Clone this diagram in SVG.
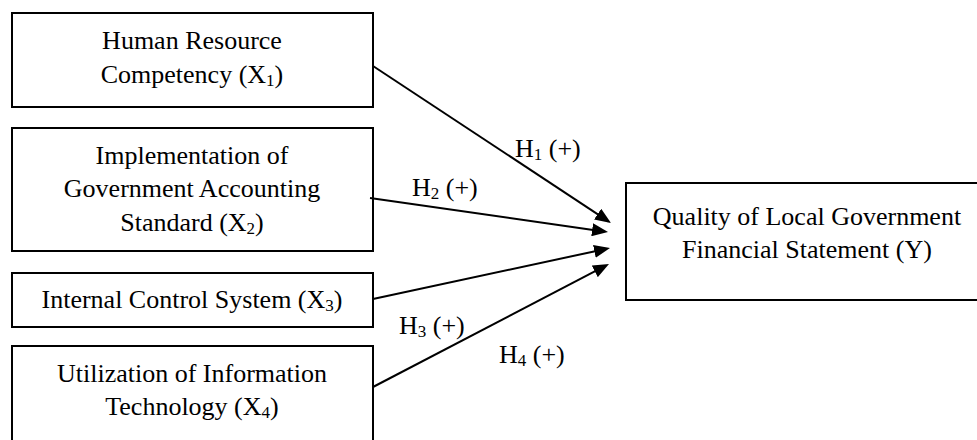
<svg xmlns="http://www.w3.org/2000/svg" width="977" height="440" viewBox="0 0 977 440">
<style>
.box{fill:#fff;stroke:#000;stroke-width:2}
.t{font-family:"Liberation Serif","Times New Roman",serif;font-size:26px;fill:#000;text-anchor:middle}
.l{font-family:"Liberation Serif","Times New Roman",serif;font-size:26px;fill:#000}
.s{font-size:17px}
.c{stroke:#000;stroke-width:2;fill:none;marker-end:url(#ah)}
</style>
<defs>
<marker id="ah" markerUnits="userSpaceOnUse" markerWidth="16" markerHeight="13" refX="8" refY="6.5" orient="auto" viewBox="0 0 16 13">
<path d="M0,0 L16,6.5 L0,13 z" fill="#000"/>
</marker>
</defs>
<rect width="977" height="440" fill="#fff"/>
<g id="x1">
<rect class="box" x="12" y="13" width="361" height="94"/>
<text class="t" x="192" y="49">Human Resource</text>
<text class="t" x="192" y="83">Competency (X<tspan class="s" dy="3">1</tspan><tspan dy="-3">)</tspan></text>
</g>
<g id="x2">
<rect class="box" x="12" y="128" width="361" height="123"/>
<text class="t" x="192" y="164">Implementation of</text>
<text class="t" x="192" y="197">Government Accounting</text>
<text class="t" x="192" y="231">Standard (X<tspan class="s" dy="3">2</tspan><tspan dy="-3">)</tspan></text>
</g>
<g id="x3">
<rect class="box" x="12" y="273" width="361" height="54"/>
<text class="t" x="192" y="308">Internal Control System (X<tspan class="s" dy="3">3</tspan><tspan dy="-3">)</tspan></text>
</g>
<g id="x4">
<rect class="box" x="12" y="346" width="361" height="100"/>
<text class="t" x="192" y="382">Utilization of Information</text>
<text class="t" x="192" y="415">Technology (X<tspan class="s" dy="3">4</tspan><tspan dy="-3">)</tspan></text>
</g>
<g id="y">
<rect class="box" x="626" y="183" width="364" height="117"/>
<text class="t" x="807" y="225">Quality of Local Government</text>
<text class="t" x="807" y="258">Financial Statement (Y)</text>
</g>
<g id="connectors">
<line class="c" x1="373" y1="66" x2="604.3" y2="218.6"/>
<line class="c" x1="370" y1="198" x2="600.1" y2="230.9"/>
<line class="c" x1="373" y1="299" x2="602.2" y2="249.7"/>
<line class="c" x1="373" y1="387" x2="601.9" y2="267.7"/>
<text class="l" x="515" y="157">H<tspan class="s" dy="3">1</tspan><tspan dy="-3"> (+)</tspan></text>
<text class="l" x="412" y="196">H<tspan class="s" dy="3">2</tspan><tspan dy="-3"> (+)</tspan></text>
<text class="l" x="399" y="334">H<tspan class="s" dy="3">3</tspan><tspan dy="-3"> (+)</tspan></text>
<text class="l" x="499" y="363">H<tspan class="s" dy="3">4</tspan><tspan dy="-3"> (+)</tspan></text>
</g>
</svg>
